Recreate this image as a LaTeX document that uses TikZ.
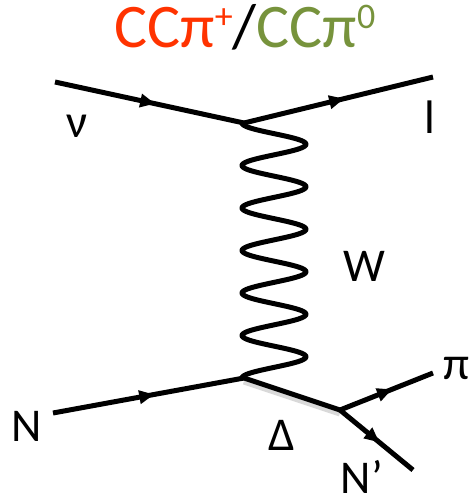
\documentclass[tikz,border=0pt]{standalone}
\usepackage{fontspec}
\setmainfont{Carlito}
\usetikzlibrary{arrows.meta,decorations.markings}
\definecolor{ccred}{RGB}{255,51,0}
\definecolor{ccgreen}{RGB}{119,147,60}
\tikzset{
  fermion/.style={line width=5pt,
    postaction={decorate,decoration={markings,
      mark=at position #1 with {\arrow{Triangle[length=15pt,width=13pt]}}}}},
  fermion/.default=0.53,
  plain/.style={line width=5pt},
  lbl/.style={font=\fontsize{47}{47}\selectfont, inner sep=0pt},
}
\begin{document}
\begin{tikzpicture}[x=1pt,y=1pt]
\useasboundingbox (0,0) rectangle (472,-504);
% vertices and ends
\coordinate (nuin) at (55,-82);
\coordinate (vtop) at (244,-123);
\coordinate (lout) at (433,-77);
\coordinate (Nin) at (53,-413);
\coordinate (vbot) at (244,-378);
\coordinate (vdel) at (340,-410);
\coordinate (piout) at (433,-373);
\coordinate (Npout) at (413,-470);
% title
\node[inner sep=0pt, font=\fontsize{62}{62}\selectfont, anchor=center] (title) at (245,-27)
  {\textcolor{ccred}{CCπ\raisebox{0.3em}{\fontsize{36}{36}\selectfont +}}/\textcolor{ccgreen}{CCπ\raisebox{0.3em}{\fontsize{36}{36}\selectfont 0}}};
% lines
\draw[fermion] (nuin) -- (vtop);
\draw[fermion] (vtop) -- (lout);
\draw[fermion] (Nin) -- (vbot);
\draw[line width=7pt, draw=gray!30] ([yshift=-3pt]vbot) -- ([yshift=-3pt]vdel);
\draw[plain] (vbot) -- (vdel);
\draw[fermion=0.56] (vdel) -- (piout);
\draw[fermion=0.54] (vdel) -- (Npout);
% W boson
\draw[line width=5pt, line join=round] plot[domain=0:1, samples=300, smooth]
  ({274-32*cos(6*360*\x)}, {-(123+255*\x)});
% labels
\node[lbl] (nu) at (77,-126) {ν};
\node[lbl] (l) at (430,-117) {l};
\node[lbl] (W) at (364,-266) {W};
\node[lbl] (N) at (27,-426) {N};
\node[lbl] (D) at (282,-435) {Δ};
\node[lbl] (pi) at (456,-368) {π};
\node[lbl] (Np) at (362,-477) {N’};
\end{tikzpicture}
\end{document}
